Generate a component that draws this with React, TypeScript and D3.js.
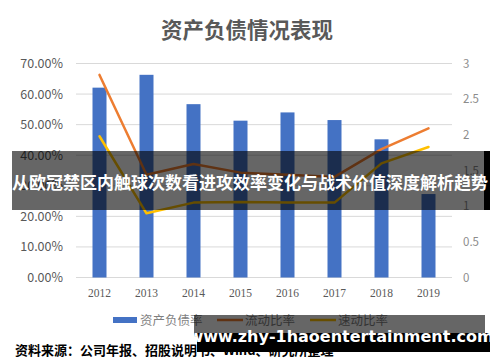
import React from "react";
import * as d3 from "d3";

const years = ["2012", "2013", "2014", "2015", "2016", "2017", "2018", "2019"];
const debtRatio = [62.1, 66.3, 56.7, 51.3, 54.0, 51.5, 45.2, 27.3];
const currentRatio = [2.84, 1.44, 1.59, 1.47, 1.44, 1.41, 1.8, 2.09];
const quickRatio = [1.98, 0.9, 1.05, 1.06, 1.05, 1.05, 1.6, 1.83];
const leftTicks = [0, 10, 20, 30, 40, 50, 60, 70];
const rightTicks = [0, 0.5, 1, 1.5, 2, 2.5, 3];
const legendItems = ["资产负债率", "流动比率", "速动比率"];

const W = 500;
const H = 362;
const plot = { left: 76, right: 452, top: 63.5, bottom: 277.5 };

export default function App() {
  const x = d3.scaleBand<string>().domain(years).range([plot.left, plot.right]).paddingInner(0.7).paddingOuter(0.35);
  const xc = (y: string) => (x(y) as number) + x.bandwidth() / 2;
  const yL = d3.scaleLinear().domain([0, 70]).range([plot.bottom, plot.top]);
  const yR = d3.scaleLinear().domain([0, 3]).range([plot.bottom, plot.top]);
  const lineGen = (vals: number[]) =>
    d3.line<number>().x((_, i) => xc(years[i])).y((v) => yR(v))(vals) as string;

  const sans = "'Microsoft YaHei','Noto Sans CJK SC','Noto Sans',sans-serif";
  const barW = 14;

  return (
    <svg width={W} height={H} style={{ position: "absolute", left: 0, top: 0, background: "#fff" }}>
      <text x={247} y={38} textAnchor="middle" fontFamily={sans} fontSize={21.5} fontWeight="bold" fill="#595959">
        资产负债情况表现
      </text>
      {leftTicks.map((t) => (
        <g key={"g" + t}>
          <line x1={plot.left} x2={plot.right} y1={yL(t)} y2={yL(t)} stroke="#D9D9D9" strokeWidth={1} />
          <text x={63} y={yL(t) + 4.5} textAnchor="end" fontFamily={sans} fontSize={12.5} fill="#595959">
            {t.toFixed(2) + "%"}
          </text>
        </g>
      ))}
      {rightTicks.map((t) => (
        <text key={"r" + t} x={463} y={yR(t) + 4} fontFamily={sans} fontSize={11.5} fill="#8c8c8c">
          {String(t)}
        </text>
      ))}
      {years.map((yr, i) => (
        <rect key={yr} x={xc(yr) - barW / 2} y={yL(debtRatio[i])} width={barW} height={plot.bottom - yL(debtRatio[i])} fill="#4472C4" />
      ))}
      {years.map((yr) => (
        <text key={"x" + yr} x={xc(yr)} y={297} textAnchor="middle" fontFamily="'Liberation Serif','DejaVu Serif',serif" fontSize={11.5} fill="#595959">
          {yr}
        </text>
      ))}
      <path d={lineGen(currentRatio)} fill="none" stroke="#ED7D31" strokeWidth={2.5} strokeLinejoin="round" strokeLinecap="round" />
      <path d={lineGen(quickRatio)} fill="none" stroke="#FFC000" strokeWidth={2.5} strokeLinejoin="round" strokeLinecap="round" />

      {/* legend */}
      <rect x={113} y={317} width={24} height={6} fill="#4472C4" />
      <text x={140} y={324.5} fontFamily={sans} fontSize={12.5} fill="#7f7f7f">{legendItems[0]}</text>
      <line x1={217} x2={243} y1={320} y2={320} stroke="#ED7D31" strokeWidth={2.5} />
      <text x={245} y={324.5} fontFamily={sans} fontSize={12.5} fill="#7f7f7f">{legendItems[1]}</text>
      <line x1={310} x2={336} y1={320} y2={320} stroke="#FFC000" strokeWidth={2.5} />
      <text x={338} y={324.5} fontFamily={sans} fontSize={12.5} fill="#7f7f7f">{legendItems[2]}</text>

      {/* source */}
      <text x={15} y={355} fontFamily={sans} fontSize={13} fontWeight="bold" fill="#000">
        资料来源：公司年报、招股说明书、Wind、研究所整理
      </text>

      {/* overlay banner */}
      <rect x={484} y={151} width={6} height={59} fill="#000" />
      <rect x={12} y={151} width={472} height={59} fill="rgba(0,0,0,0.6)" />
      <text x={250} y={189} textAnchor="middle" fontFamily={sans} fontSize={17} fontWeight="bold" fill="#fff">
        从欧冠禁区内触球次数看进攻效率变化与战术价值深度解析趋势
      </text>

      {/* bottom watermark */}
      <rect x={197} y={333} width={293} height={19} fill="#000" />
      <rect x={194} y={315} width={291} height={22} fill="rgba(0,0,0,0.6)" />
      <text x={341} y={342} textAnchor="middle" fontFamily="'DejaVu Sans','Noto Sans',sans-serif" fontSize={16} fontWeight="bold" fill="#fff">
        www.zhy-1haoentertainment.com
      </text>
    </svg>
  );
}
